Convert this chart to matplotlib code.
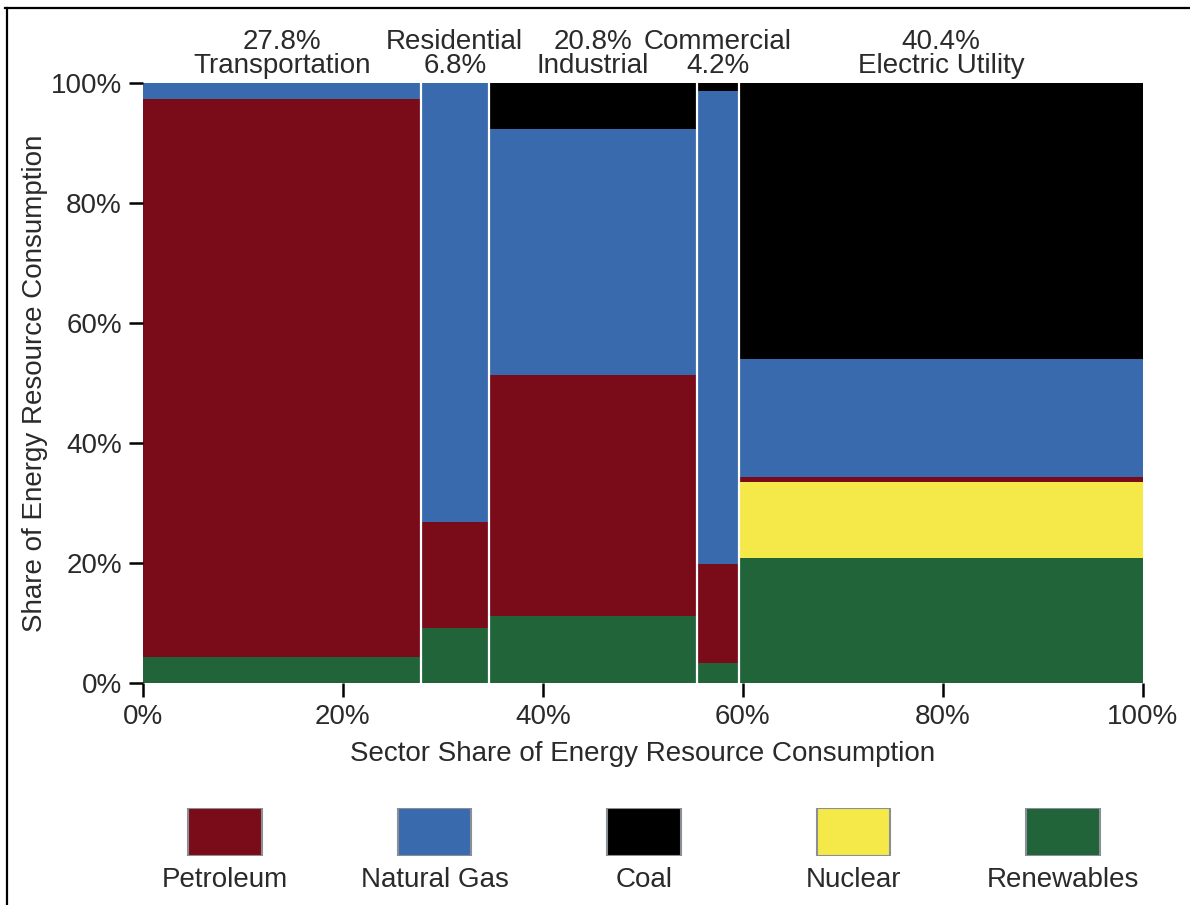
import matplotlib.pyplot as plt
from matplotlib.lines import Line2D
from matplotlib.ticker import FuncFormatter
import numpy as np

plt.rcParams['font.family'] = ['Liberation Sans', 'DejaVu Sans']

# sectors and their share of total consumption (%)
sectors = ["Transportation", "Residential", "Industrial", "Commercial", "Electric Utility"]
sector_share = [27.8, 6.8, 20.8, 4.2, 40.4]

# share of each resource inside a sector (%), stacked bottom to top
renewables = [4.3, 9.2, 11.2, 3.3, 20.9]
nuclear = [0.0, 0.0, 0.0, 0.0, 12.6]
petroleum = [93.0, 17.7, 40.1, 16.6, 0.8]
natural_gas = [2.7, 73.1, 41.0, 78.8, 19.7]
coal = [0.0, 0.0, 7.7, 1.3, 46.0]

stack = [("Renewables", renewables, "#21643a"),
         ("Nuclear", nuclear, "#f5e94a"),
         ("Petroleum", petroleum, "#7a0c1a"),
         ("Natural Gas", natural_gas, "#3a6aae"),
         ("Coal", coal, "#000000")]
legend_order = ["Petroleum", "Natural Gas", "Coal", "Nuclear", "Renewables"]

FS = 20
TXT = "#2a2a2a"

fig = plt.figure(figsize=(11.9, 9.05), dpi=100)
ax = fig.add_axes([0.1199, 0.2453, 0.8406, 0.663])

widths = np.array(sector_share)
lefts = np.concatenate([[0], np.cumsum(widths)[:-1]])
bottom = np.zeros(len(sectors))
for name, vals, col in stack:
    ax.bar(lefts, vals, width=widths, bottom=bottom, align="edge", color=col, linewidth=0)
    bottom += np.array(vals)

for x in np.cumsum(widths)[:-1]:
    ax.axvline(x, color="white", lw=1.6)

for i, (s, w, l) in enumerate(zip(sectors, widths, lefts)):
    if i % 2 == 0:
        lab = "%.1f%%\n%s" % (w, s)
    else:
        lab = "%s\n%.1f%%" % (s, w)
    ax.text(l + w / 2, 100.6, lab, ha="center", va="bottom", fontsize=FS,
            color=TXT, linespacing=0.92)

ax.set_xlim(0, 100)
ax.set_ylim(0, 100)
ax.set_xticks([0, 20, 40, 60, 80, 100])
ax.set_yticks([0, 20, 40, 60, 80, 100])
pct = FuncFormatter(lambda v, p: "%d%%" % v)
ax.xaxis.set_major_formatter(pct)
ax.yaxis.set_major_formatter(pct)
ax.tick_params(length=10, width=1.8, labelsize=FS, labelcolor=TXT, pad=5)
for sp in ax.spines.values():
    sp.set_visible(False)
ax.set_xlabel("Sector Share of Energy Resource Consumption", fontsize=FS, color=TXT, labelpad=8)
ax.set_ylabel("Share of Energy Resource Consumption", fontsize=FS, color=TXT, labelpad=2)

# legend drawn as a row of swatches with names underneath
colors = {n: c for n, v, c in stack}
lax = fig.add_axes([0.1011, 0.0541, 0.8803, 0.0531])
lax.bar(range(len(legend_order)), 1, width=0.35, color=[colors[n] for n in legend_order],
        edgecolor="#8a8f96", linewidth=1.5)
lax.set_xlim(-0.5, len(legend_order) - 0.5)
lax.set_ylim(0, 1)
lax.set_xticks(range(len(legend_order)))
lax.set_xticklabels(legend_order)
lax.set_yticks([])
lax.tick_params(length=0, labelsize=FS, labelcolor=TXT, pad=8)
for sp in lax.spines.values():
    sp.set_visible(False)

# frame edges visible in the screenshot
fig.add_artist(Line2D([0.004, 1.0], [0.991, 0.991], color="black", lw=1.6))
fig.add_artist(Line2D([0.006, 0.006], [0.0, 0.991], color="black", lw=1.6))

fig.savefig("out.png", dpi=100)
